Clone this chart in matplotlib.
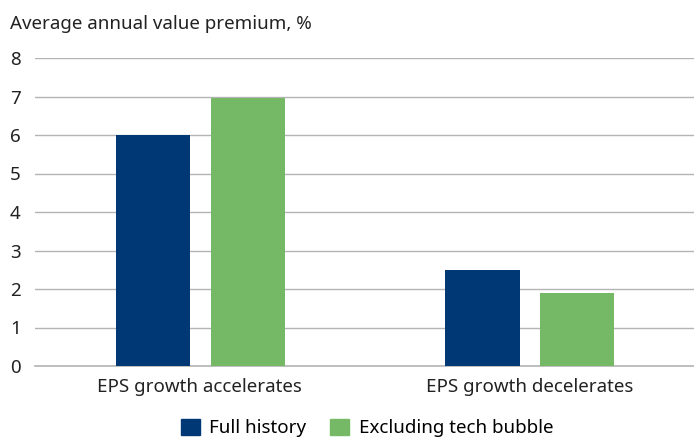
import matplotlib.pyplot as plt
import numpy as np
from matplotlib.patches import Patch

plt.rcParams["font.family"] = ["Noto Sans", "DejaVu Sans"]

categories = ["EPS growth accelerates", "EPS growth decelerates"]
full_history = [6.0, 2.5]
excl_tech = [6.95, 1.9]
series_names = ["Full history", "Excluding tech bubble"]
colors = ["#003876", "#75b966"]

fig = plt.figure(figsize=(6.94, 4.37), dpi=100)
ax = fig.add_axes([35 / 694, 1 - 366 / 437, 1 - 35 / 694, (366 - 58) / 437])

x = np.arange(len(categories))
w = 0.225
ax.bar(x - 0.142, full_history, w, color=colors[0], zorder=3)
ax.bar(x + 0.146, excl_tech, w, color=colors[1], zorder=3)

ax.set_xlim(-0.5, 1.5)
ax.set_ylim(0, 8)
ax.set_yticks(range(0, 9))
ax.yaxis.grid(True, color="#b4b4b4", linewidth=1)
ax.set_axisbelow(True)
for s in ["top", "right", "left"]:
    ax.spines[s].set_visible(False)
ax.spines["bottom"].set_color("#b4b4b4")
ax.spines["bottom"].set_linewidth(1.2)
ax.tick_params(axis="y", length=0, pad=18, labelsize=13.5, labelcolor="#222222")
ax.tick_params(axis="x", length=0, pad=9, labelsize=13.5, labelcolor="#222222")
ax.set_xticks(x)
ax.set_xticklabels(categories)
for lbl in ax.get_yticklabels():
    lbl.set_horizontalalignment("left")

fig.text(10 / 694, 1 - 24 / 437, "Average annual value premium, %", fontsize=13.5,
         color="#222222", va="center", ha="left")

handles = [Patch(color=c, label=n) for c, n in zip(colors, series_names)]
fig.legend(handles=handles, loc="center", bbox_to_anchor=(367 / 694, 1 - 428 / 437),
           ncol=2, frameon=False, fontsize=13.5, handlelength=1.0, handleheight=1.0,
           handletextpad=0.5, columnspacing=1.3, borderpad=0)

fig.savefig("out.png", dpi=100)
